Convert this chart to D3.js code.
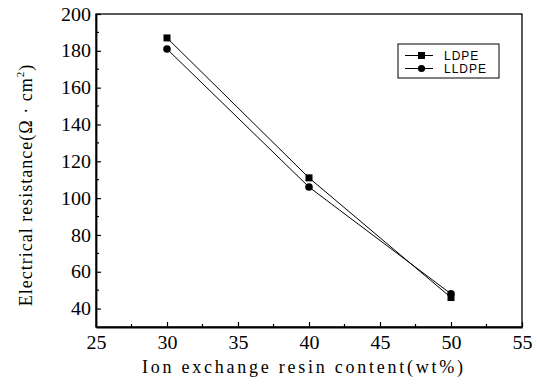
<!DOCTYPE html>
<html><head><meta charset="utf-8">
<script src="https://cdn.jsdelivr.net/npm/d3@7"></script>
<style>body{margin:0;background:#fff}svg{display:block}</style>
</head><body>
<script>
const content = [30, 40, 50];
const ldpe = [187, 111, 46];
const lldpe = [181, 106, 48];
const seriesNames = ["LDPE", "LLDPE"];
const xTicks = [25, 30, 35, 40, 45, 50, 55];
const yTicks = [40, 60, 80, 100, 120, 140, 160, 180, 200];

const W = 537, H = 385;
const m = {l: 96, r: 15, t: 14, b: 58};
const svg = d3.select("body").append("svg").attr("width", W).attr("height", H);
const x = d3.scaleLinear().domain([25, 55]).range([m.l, W - m.r]);
const y = d3.scaleLinear().domain([30, 200]).range([H - m.b, m.t]);

const serif = "Liberation Serif";

// frame (top and right)
svg.append("rect").attr("x", x(25)).attr("y", y(200)).attr("width", x(55) - x(25)).attr("height", y(30) - y(200))
  .attr("fill", "none").attr("stroke", "#000").attr("stroke-width", 1.3);

// x axis
const xa = svg.append("g").attr("transform", `translate(0,${y(30)})`)
  .call(d3.axisBottom(x).tickValues(xTicks).tickSizeInner(-5).tickSizeOuter(0).tickPadding(9));
xa.attr("font-family", serif).attr("font-size", 19);
xa.select(".domain").attr("stroke-width", 1.8);
xa.selectAll(".tick line").attr("stroke-width", 1.2);
xa.selectAll(".minor").data(d3.range(27.5, 55, 5)).enter().append("line").attr("class", "minor")
  .attr("x1", d => x(d)).attr("x2", d => x(d)).attr("y1", 0).attr("y2", -3).attr("stroke", "#000").attr("stroke-width", 1.2);
xa.selectAll("text").attr("font-family", serif).attr("font-size", 19).attr("textLength", d => String(d).length * 10).attr("lengthAdjust", "spacingAndGlyphs").attr("fill", "#000");

// y axis
const ya = svg.append("g").attr("transform", `translate(${x(25)},0)`)
  .call(d3.axisLeft(y).tickValues(yTicks).tickSizeInner(-5).tickSizeOuter(0).tickPadding(5));
ya.attr("font-family", serif).attr("font-size", 19);
ya.select(".domain").attr("stroke-width", 1.8);
ya.selectAll(".tick line").attr("stroke-width", 1.2);
ya.selectAll(".minor").data(d3.range(50, 200, 20)).enter().append("line").attr("class", "minor")
  .attr("x1", 0).attr("x2", 3).attr("y1", d => y(d)).attr("y2", d => y(d)).attr("stroke", "#000").attr("stroke-width", 1.2);
ya.selectAll("text").attr("font-family", serif).attr("font-size", 19).attr("textLength", d => String(d).length * 10).attr("lengthAdjust", "spacingAndGlyphs").attr("fill", "#000");

// titles
svg.append("text").attr("x", 142).attr("y", 373)
  .attr("textLength", 321).attr("lengthAdjust", "spacing")
  .attr("font-family", serif).attr("font-size", 18).text("Ion exchange resin content(wt%)");
const yt = svg.append("text").attr("transform", `translate(32,185) rotate(-90)`)
  .attr("text-anchor", "middle").attr("font-family", serif).attr("font-size", 18).attr("letter-spacing", 1);
yt.append("tspan").text("Electrical resistance(Ω · cm");
yt.append("tspan").attr("font-size", 11).attr("dy", -8).text("2");
yt.append("tspan").attr("dy", 8).text(")");

// lines
const line = d3.line().x((d, i) => x(content[i])).y(d => y(d));
[ldpe, lldpe].forEach(s => {
  svg.append("path").datum(s).attr("d", line).attr("fill", "none").attr("stroke", "#000").attr("stroke-width", 1);
});
svg.selectAll(".sq").data(ldpe).enter().append("rect")
  .attr("x", (d, i) => x(content[i]) - 3.5).attr("y", d => y(d) - 3.5).attr("width", 7).attr("height", 7).attr("fill", "#000");
svg.selectAll(".ci").data(lldpe).enter().append("circle")
  .attr("cx", (d, i) => x(content[i])).attr("cy", d => y(d)).attr("r", 3.8).attr("fill", "#000");

// legend
const lg = svg.append("g");
lg.append("rect").attr("x", 398).attr("y", 44).attr("width", 101).attr("height", 34)
  .attr("fill", "#fff").attr("stroke", "#000").attr("stroke-width", 1);
seriesNames.forEach((n, i) => {
  const yy = 55.5 + i * 13;
  lg.append("line").attr("x1", 405).attr("x2", 433).attr("y1", yy).attr("y2", yy).attr("stroke", "#000");
  if (i === 0) lg.append("rect").attr("x", 418).attr("y", yy - 3.5).attr("width", 7).attr("height", 7).attr("fill", "#000");
  else lg.append("circle").attr("cx", 421.5).attr("cy", yy).attr("r", 3.6).attr("fill", "#000");
  lg.append("text").attr("x", 444).attr("y", yy + 4.3).attr("font-family", "Liberation Sans")
    .attr("font-size", 12).attr("letter-spacing", 1).text(n);
});
</script>
</body></html>
